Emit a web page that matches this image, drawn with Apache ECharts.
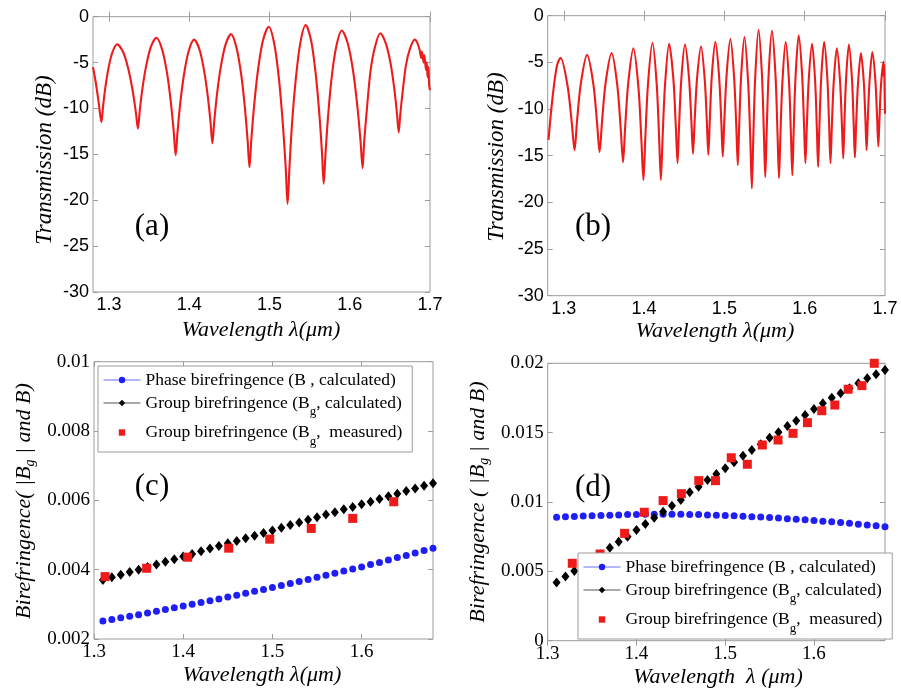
<!DOCTYPE html>
<html>
<head>
<meta charset="utf-8">
<title>Transmission and birefringence</title>
<script src="https://cdn.jsdelivr.net/npm/echarts@6/dist/echarts.min.js"></script>
<style>
  html, body { margin: 0; padding: 0; background: #fff; }
  #main { width: 901px; height: 690px; }
</style>
</head>
<body>
<div id="main"></div>
<script>
// (a) transmission spectrum, wavelength (um) / dB
var wlA = [1.2800, 1.2835, 1.2870, 1.2905, 1.2925, 1.2954, 1.2993, 1.3041, 1.3100, 1.3178, 1.3243, 1.3295, 1.3334,
  1.3360, 1.3383, 1.3418, 1.3464, 1.3521, 1.3590, 1.3662, 1.3722, 1.3770, 1.3806, 1.3830, 1.3853, 1.3888,
  1.3934, 1.3991, 1.4060, 1.4128, 1.4185, 1.4231, 1.4265, 1.4288, 1.4311, 1.4346, 1.4392, 1.4450, 1.4520,
  1.4589, 1.4647, 1.4693, 1.4727, 1.4750, 1.4774, 1.4810, 1.4858, 1.4918, 1.4990, 1.5060, 1.5119, 1.5166,
  1.5202, 1.5225, 1.5248, 1.5281, 1.5326, 1.5383, 1.5450, 1.5518, 1.5574, 1.5619, 1.5653, 1.5675, 1.5698,
  1.5731, 1.5776, 1.5833, 1.5900, 1.5978, 1.6043, 1.6095, 1.6134, 1.6160, 1.6180, 1.6215, 1.6259, 1.6314,
  1.6380, 1.6449, 1.6507, 1.6553, 1.6587, 1.6610, 1.6630, 1.6660, 1.6700, 1.6750, 1.6810, 1.6840, 1.6870,
  1.6890, 1.6900, 1.6920, 1.6930, 1.6950, 1.6960, 1.6970, 1.6980, 1.6990, 1.7000];
var dbA = [-5.5, -7.2, -9.3, -11.5, -9.8, -7.7, -5.6, -3.9, -3.0, -3.9, -5.8, -8.1, -10.4,
  -12.2, -10.2, -7.7, -5.3, -3.3, -2.3, -3.6, -6.1, -9.3, -12.5, -15.1, -12.6, -9.4,
  -6.3, -3.8, -2.5, -3.6, -5.9, -8.7, -11.5, -13.8, -11.4, -8.4, -5.5, -3.1, -1.9,
  -3.4, -6.3, -9.9, -13.5, -16.4, -13.3, -9.5, -5.7, -2.6, -1.1, -3.0, -6.9, -11.7,
  -16.5, -20.4, -16.5, -11.6, -6.9, -2.9, -0.9, -2.6, -6.1, -10.4, -14.7, -18.2, -14.9,
  -10.7, -6.5, -3.2, -1.5, -3.0, -6.0, -9.8, -13.5, -16.5, -13.6, -9.9, -5.9, -3.3,
  -1.8, -2.9, -5.0, -7.7, -10.4, -12.6, -10.6, -8.1, -5.3, -3.5, -2.5, -2.8, -3.6,
  -4.5, -3.8, -5.0, -4.2, -5.8, -5.0, -6.6, -5.5, -7.5, -8.0];

// (b) transmission spectrum
var wlB = [1.2810, 1.2845, 1.2885, 1.2920, 1.2960, 1.3047, 1.3099, 1.3134, 1.3165, 1.3212, 1.3290, 1.3368,
  1.3415, 1.3446, 1.3476, 1.3521, 1.3596, 1.3667, 1.3710, 1.3738, 1.3764, 1.3803, 1.3867, 1.3930, 1.3967,
  1.3992, 1.4015, 1.4049, 1.4105, 1.4157, 1.4188, 1.4209, 1.4230, 1.4261, 1.4312, 1.4365, 1.4396, 1.4417,
  1.4435, 1.4463, 1.4509, 1.4559, 1.4589, 1.4609, 1.4629, 1.4659, 1.4709, 1.4755, 1.4782, 1.4800, 1.4818,
  1.4844, 1.4888, 1.4934, 1.4962, 1.4980, 1.4999, 1.5028, 1.5075, 1.5121, 1.5149, 1.5167, 1.5184, 1.5209,
  1.5250, 1.5296, 1.5324, 1.5342, 1.5359, 1.5384, 1.5425, 1.5467, 1.5492, 1.5509, 1.5526, 1.5551, 1.5592,
  1.5636, 1.5662, 1.5680, 1.5697, 1.5722, 1.5763, 1.5805, 1.5829, 1.5846, 1.5862, 1.5886, 1.5925, 1.5967,
  1.5992, 1.6009, 1.6026, 1.6051, 1.6092, 1.6130, 1.6152, 1.6167, 1.6182, 1.6205, 1.6242, 1.6282, 1.6305,
  1.6321, 1.6337, 1.6361, 1.6400, 1.6440, 1.6464, 1.6480, 1.6494, 1.6515, 1.6550, 1.6588, 1.6610, 1.6625,
  1.6640, 1.6663, 1.6700, 1.6736, 1.6757, 1.6771, 1.6785, 1.6807, 1.6842, 1.6880, 1.6902, 1.6917, 1.6930,
  1.6949, 1.6980, 1.6985, 1.6990, 1.6995, 1.7000];
var dbB = [-13.3, -10.0, -7.0, -5.2, -4.5, -7.5, -11.4, -14.4, -11.3, -7.3, -4.2, -7.3,
  -11.5, -14.6, -11.4, -7.2, -4.0, -7.5, -12.2, -15.7, -12.0, -7.2, -3.5, -7.7, -13.4,
  -17.6, -13.2, -7.3, -2.9, -7.3, -13.2, -17.6, -13.2, -7.4, -3.0, -6.8, -12.0, -15.8,
  -12.0, -6.9, -3.1, -6.6, -11.3, -14.8, -11.4, -6.8, -3.3, -6.8, -11.4, -14.9, -11.3,
  -6.4, -2.8, -6.5, -11.4, -15.1, -11.3, -6.3, -2.5, -6.6, -12.0, -16.0, -11.9, -6.4,
  -2.3, -7.2, -13.6, -18.5, -13.4, -6.6, -1.5, -6.2, -12.6, -17.3, -12.6, -6.3, -1.6,
  -6.3, -12.7, -17.4, -13.0, -7.2, -2.8, -7.1, -12.8, -17.1, -12.6, -6.6, -2.1, -6.2,
  -11.7, -15.8, -12.0, -6.8, -3.0, -7.0, -12.2, -16.2, -12.2, -6.8, -2.8, -6.7, -11.9,
  -15.8, -12.1, -7.2, -3.5, -7.0, -11.8, -15.3, -11.6, -6.8, -3.1, -6.7, -11.6, -15.2,
  -11.8, -7.4, -4.0, -7.1, -11.3, -14.4, -11.3, -7.1, -3.9, -6.9, -11.0, -14.0, -11.3,
  -7.6, -4.9, -6.5, -5.2, -8.0, -10.5];

// (c) and (d) calculated curves share the wavelength grid
var lamCalc = [1.31, 1.32, 1.33, 1.34, 1.35, 1.36, 1.37, 1.38, 1.39, 1.40, 1.41, 1.42, 1.43, 1.44, 1.45,
  1.46, 1.47, 1.48, 1.49, 1.50, 1.51, 1.52, 1.53, 1.54, 1.55, 1.56, 1.57, 1.58, 1.59, 1.60, 1.61, 1.62,
  1.63, 1.64, 1.65, 1.66, 1.67, 1.68];

var phaseC = [0.00252, 0.002565, 0.00261, 0.002655, 0.0027, 0.00275, 0.0028, 0.00285, 0.0029, 0.00295,
  0.003, 0.00305, 0.0031, 0.003155, 0.00321, 0.003265, 0.00332, 0.003375, 0.00343, 0.003485, 0.00354,
  0.0036, 0.00366, 0.00372, 0.00378, 0.00384, 0.0039, 0.00396, 0.00402, 0.00408, 0.00415, 0.00421,
  0.00428, 0.00435, 0.00441, 0.00448, 0.00455, 0.00462];
var groupC = [0.0037, 0.00378, 0.00385, 0.00393, 0.004, 0.00408, 0.00415, 0.00423, 0.0043, 0.00438,
  0.00445, 0.00453, 0.00461, 0.00468, 0.00476, 0.00483, 0.00491, 0.00498, 0.00506, 0.00513, 0.00521,
  0.00529, 0.00536, 0.00544, 0.00551, 0.00559, 0.00566, 0.00574, 0.00581, 0.00589, 0.00596, 0.00604,
  0.00612, 0.00619, 0.00627, 0.00634, 0.00642, 0.00649];
var lamMeasC = [1.3124, 1.359, 1.405, 1.451, 1.497, 1.5435, 1.590, 1.636];
var groupMeasC = [0.0038, 0.00404, 0.00436, 0.00462, 0.00488, 0.00519, 0.00548, 0.00596];

var phaseD = [0.0089, 0.00893, 0.00896, 0.00899, 0.00901, 0.00903, 0.00905, 0.00907, 0.00909, 0.0091,
  0.00911, 0.00912, 0.00912, 0.00912, 0.00911, 0.0091, 0.00909, 0.00907, 0.00905, 0.00903, 0.009,
  0.00897, 0.00894, 0.00891, 0.00888, 0.00884, 0.0088, 0.00876, 0.00872, 0.00867, 0.00862, 0.00857,
  0.00852, 0.00846, 0.0084, 0.00834, 0.00828, 0.00822];
var groupD = [0.0042, 0.00462, 0.00503, 0.00543, 0.00583, 0.00623, 0.00671, 0.00714, 0.0075, 0.00798,
  0.00841, 0.00887, 0.0093, 0.00973, 0.01014, 0.0107, 0.0111, 0.01159, 0.01202, 0.01243, 0.01286,
  0.01334, 0.01375, 0.01416, 0.01464, 0.01502, 0.01548, 0.01586, 0.01627, 0.01671, 0.01712, 0.01752,
  0.01784, 0.0182, 0.01856, 0.01892, 0.01921, 0.01952];
var lamMeasD = [1.3277, 1.359, 1.3866, 1.4088, 1.43, 1.4506, 1.4702, 1.489, 1.5068, 1.5249, 1.5418,
  1.5595, 1.5764, 1.5926, 1.6088, 1.6235, 1.6385, 1.654, 1.6679];
var groupMeasD = [0.00558, 0.00625, 0.00774, 0.00926, 0.0101, 0.0106, 0.01154, 0.01154, 0.01319, 0.01272,
  0.01411, 0.01447, 0.01495, 0.01572, 0.01658, 0.01699, 0.01813, 0.01839, 0.0200];

// tick labels
var ticksWlAB = [1.3, 1.4, 1.5, 1.6, 1.7];
var ticksWlCD = [1.3, 1.4, 1.5, 1.6];
var ticksDb = [0, -5, -10, -15, -20, -25, -30];
var ticksBc = [0.002, 0.004, 0.006, 0.008, 0.01];
var ticksBd = [0, 0.005, 0.01, 0.015, 0.02];

var legendText = {
  phaseC: 'Phase birefringence (B , calculated)',
  groupC: 'Group birefringence (B{sub|g}, calculated)',
  measC: 'Group birefringence (B{sub|g},  measured)',
  phaseD: 'Phase birefringence (B , calculated)',
  groupD: 'Group birefringence (B{sub|g}, calculated)',
  measD: 'Group birefringence (B{sub|g},  measured)'
};

var frameColor = '#9c9c9c';
var serif = '"Liberation Serif", "Times New Roman", serif';
var sans = '"Liberation Sans", Arial, sans-serif';
var blue = '#1f1ff5';
var red = '#ee1b1b';

var grids = [
  { left: 93, top: 16.7, width: 337, height: 275.3 },
  { left: 547.7, top: 15.7, width: 337.3, height: 280 },
  { left: 94, top: 361.7, width: 339, height: 277.3 },
  { left: 547.7, top: 363.3, width: 337.3, height: 277.4 }
];

function pairs(xs, ys) {
  var out = [];
  for (var i = 0; i < xs.length; i++) {
    out.push([xs[i], ys[i]]);
  }
  return out;
}

// one labelled axis plus a bare mirror axis, so ticks show on all four sides
function axisPair(gridIndex, min, max, ticks, font, size, sides) {
  var list = [];
  for (var k = 0; k < 2; k++) {
    list.push({
      type: 'value',
      gridIndex: gridIndex,
      position: sides[k],
      min: min,
      max: max,
      axisLine: { show: false },
      splitLine: { show: false },
      axisTick: { inside: true, length: 5, customValues: ticks, lineStyle: { color: frameColor, width: 1 } },
      axisLabel: {
        show: k === 0,
        customValues: ticks,
        margin: 4,
        color: '#000',
        fontFamily: font,
        fontSize: size
      }
    });
  }
  return list;
}

var xAxes = [].concat(
  axisPair(0, 1.28, 1.7, ticksWlAB, sans, 18, ['bottom', 'top']),
  axisPair(1, 1.28, 1.7, ticksWlAB, sans, 18, ['bottom', 'top']),
  axisPair(2, 1.3, 1.68, ticksWlCD, serif, 19, ['bottom', 'top']),
  axisPair(3, 1.3, 1.68, ticksWlCD, serif, 19, ['bottom', 'top'])
);
var yAxes = [].concat(
  axisPair(0, -30, 0, ticksDb, sans, 18, ['left', 'right']),
  axisPair(1, -30, 0, ticksDb, sans, 18, ['left', 'right']),
  axisPair(2, 0.002, 0.01, ticksBc, serif, 19, ['left', 'right']),
  axisPair(3, 0, 0.02, ticksBd, serif, 19, ['left', 'right'])
);

function spectrum(name, g, xs, ys) {
  return {
    type: 'line', name: name, xAxisIndex: 2 * g, yAxisIndex: 2 * g,
    data: pairs(xs, ys), showSymbol: false, smooth: 0.3, silent: true,
    lineStyle: { color: red, width: 2.1 }
  };
}

function markers(name, g, xs, ys, symbol, size, color) {
  return {
    type: 'line', name: name, xAxisIndex: 2 * g, yAxisIndex: 2 * g,
    data: pairs(xs, ys), symbol: symbol, symbolSize: size, showSymbol: true, showAllSymbol: true,
    clip: false, silent: true,
    itemStyle: { color: color, borderWidth: 0 },
    lineStyle: { color: color, width: 0, opacity: 0 }
  };
}

function birefLegend(left, top, names) {
  return {
    orient: 'vertical', left: left, top: top,
    padding: [5, 10, 4, 5], itemGap: 5, itemWidth: 37, itemHeight: 8,
    backgroundColor: '#fff', borderColor: frameColor, borderWidth: 1,
    selectedMode: false,
    data: [
      { name: names[0], lineStyle: { opacity: 1, width: 1, color: '#6d6dff' } },
      { name: names[1], lineStyle: { opacity: 1, width: 1, color: '#555' } },
      { name: names[2] }
    ],
    formatter: function (name) { return legendText[name]; },
    textStyle: {
      fontFamily: serif, fontSize: 17.5, color: '#000',
      rich: { sub: { fontFamily: serif, fontSize: 13, color: '#000', padding: [18, 0, 0, 0] } }
    }
  };
}

function text(str, x, y, size, italic, rotate) {
  return {
    type: 'text', x: x, y: y, rotation: rotate ? Math.PI / 2 : 0, silent: true,
    style: {
      text: str, x: 0, y: 0, align: 'center', verticalAlign: 'middle', fill: '#000',
      fontFamily: serif, fontSize: size, fontStyle: italic ? 'italic' : 'normal',
      rich: { sub: { fontFamily: serif, fontSize: 14, fontStyle: 'italic', fill: '#000', padding: [12, 0, 0, 0] } }
    }
  };
}

var chart = echarts.init(document.getElementById('main'), null, { renderer: 'canvas' });

var option = {
  animation: false,
  backgroundColor: '#fff',
  grid: grids.map(function (g) {
    return { left: g.left, top: g.top, width: g.width, height: g.height, show: true, borderColor: frameColor, borderWidth: 1 };
  }),
  xAxis: xAxes,
  yAxis: yAxes,
  legend: [
    birefLegend(98, 366, ['phaseC', 'groupC', 'measC']),
    birefLegend(578, 553, ['phaseD', 'groupD', 'measD'])
  ],
  graphic: [
    text('(a)', 152, 227, 31, false, false),
    text('(b)', 593, 227, 31, false, false),
    text('(c)', 152, 487, 31, false, false),
    text('(d)', 593, 488, 31, false, false),
    text('Wavelength λ(μm)', 261, 330, 22, true, false),
    text('Wavelength λ(μm)', 715, 331, 22, true, false),
    text('Wavelength λ(μm)', 262, 675, 22, true, false),
    text('Wavelength  λ (μm)', 718, 677, 22, true, false),
    text('Transmission (dB)', 45, 160, 23, true, true),
    text('Transmission (dB)', 497, 157, 23, true, true),
    text('Birefringence( |B{sub|g} | and B)', 24, 501, 22, true, true),
    text('Birefringence ( |B{sub|g} | and B)', 478, 502, 22, true, true)
  ],
  series: [
    spectrum('specA', 0, wlA, dbA),
    spectrum('specB', 1, wlB, dbB),
    markers('phaseC', 2, lamCalc, phaseC, 'circle', 7, blue),
    markers('groupC', 2, lamCalc, groupC, 'diamond', [8, 10], '#000'),
    markers('measC', 2, lamMeasC, groupMeasC, 'rect', 9, red),
    markers('phaseD', 3, lamCalc, phaseD, 'circle', 7, blue),
    markers('groupD', 3, lamCalc, groupD, 'diamond', [8, 10], '#000'),
    markers('measD', 3, lamMeasD, groupMeasD, 'rect', 9, red)
  ]
};

chart.setOption(option);
</script>
</body>
</html>
